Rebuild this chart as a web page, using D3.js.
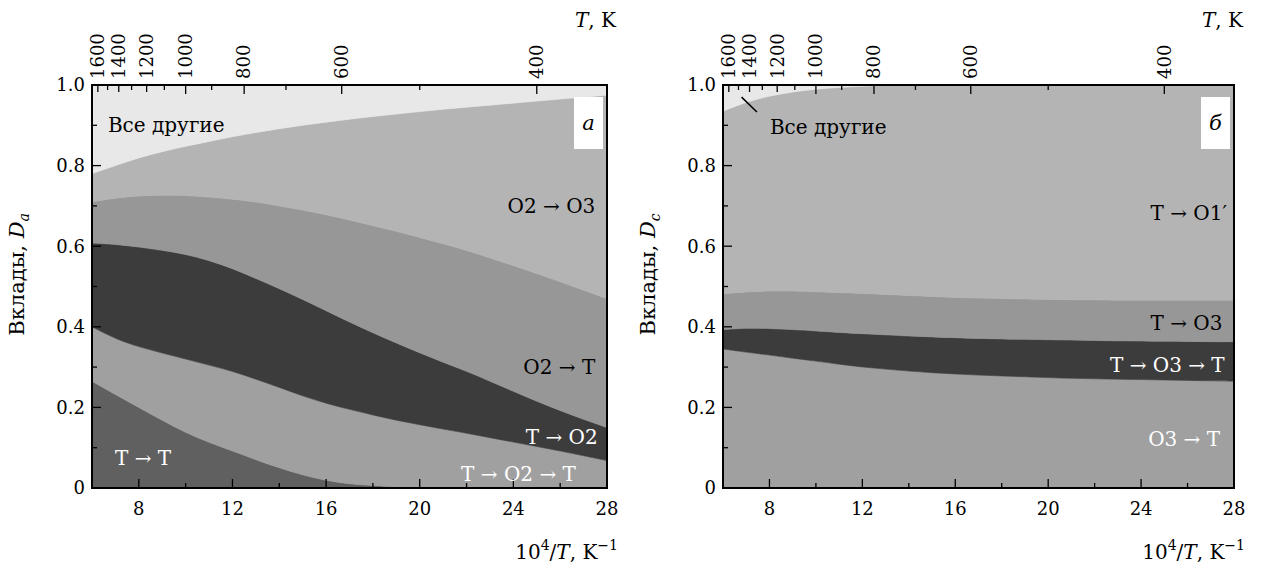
<!DOCTYPE html>
<html>
<head>
<meta charset="utf-8">
<script src="https://cdn.jsdelivr.net/npm/d3@7"></script>
<style>
  body { margin: 0; background: #fff; }
  text { font-family: "DejaVu Serif", serif; }
</style>
</head>
<body>
<script>
// 10^4/T grid, K^-1
var invT = [6, 7, 8, 9, 10, 11, 12, 13, 14, 15, 16, 17, 18, 19, 20, 21, 22, 23, 24, 25, 26, 27, 28];

// top axis, T in K
var tempMajor = [1600, 1400, 1200, 1000, 800, 600, 400];
var tempMinor = [1500, 1300, 1100, 900, 700, 500];
var xTicks = [8, 12, 16, 20, 24, 28];
var yTicks = [0, 0.2, 0.4, 0.6, 0.8, 1.0];

// panel a: contributions D_a (bottom to top)
var aTT   = [0.265, 0.232, 0.2, 0.168, 0.137, 0.113, 0.092, 0.07, 0.05, 0.032, 0.018, 0.01, 0.006, 0.003, 0.001, 0, 0, 0, 0, 0, 0, 0, 0];
var aTO2T = [0.135, 0.138, 0.15, 0.167, 0.183, 0.192, 0.198, 0.2, 0.2, 0.196, 0.192, 0.185, 0.175, 0.165, 0.156, 0.146, 0.136, 0.125, 0.114, 0.103, 0.092, 0.08, 0.068];
var aTO2  = [0.208, 0.235, 0.248, 0.255, 0.26, 0.26, 0.255, 0.25, 0.245, 0.24, 0.23, 0.217, 0.204, 0.192, 0.178, 0.166, 0.154, 0.14, 0.126, 0.112, 0.1, 0.09, 0.082];
var aO2T  = [0.102, 0.115, 0.127, 0.137, 0.146, 0.157, 0.172, 0.19, 0.205, 0.222, 0.238, 0.253, 0.266, 0.277, 0.287, 0.294, 0.3, 0.306, 0.312, 0.317, 0.32, 0.321, 0.32];
var aO2O3 = [0.07, 0.08, 0.095, 0.108, 0.122, 0.138, 0.155, 0.172, 0.192, 0.21, 0.23, 0.25, 0.271, 0.291, 0.312, 0.334, 0.355, 0.379, 0.403, 0.428, 0.453, 0.479, 0.505];
var aOther = [0.22, 0.2, 0.18, 0.165, 0.152, 0.14, 0.128, 0.118, 0.108, 0.1, 0.092, 0.085, 0.078, 0.072, 0.066, 0.06, 0.055, 0.05, 0.045, 0.04, 0.035, 0.03, 0.025];

// panel b: contributions D_c (bottom to top)
var bO3T  = [0.345, 0.337, 0.33, 0.322, 0.315, 0.307, 0.3, 0.295, 0.29, 0.286, 0.283, 0.28, 0.278, 0.276, 0.274, 0.272, 0.271, 0.27, 0.269, 0.268, 0.267, 0.266, 0.265];
var bTO3T = [0.048, 0.06, 0.066, 0.071, 0.075, 0.079, 0.083, 0.085, 0.087, 0.089, 0.09, 0.091, 0.092, 0.093, 0.094, 0.095, 0.095, 0.095, 0.096, 0.096, 0.097, 0.097, 0.098];
var bTO3  = [0.089, 0.09, 0.093, 0.096, 0.097, 0.099, 0.1, 0.1, 0.101, 0.1, 0.1, 0.1, 0.1, 0.1, 0.1, 0.1, 0.101, 0.101, 0.101, 0.102, 0.102, 0.103, 0.103];
var bTO1  = [0.453, 0.471, 0.484, 0.494, 0.503, 0.509, 0.514, 0.519, 0.522, 0.525, 0.527, 0.529, 0.53, 0.531, 0.532, 0.533, 0.533, 0.534, 0.534, 0.534, 0.534, 0.534, 0.534];
var bOther = [0.065, 0.042, 0.027, 0.017, 0.01, 0.006, 0.003, 0.001, 0, 0, 0, 0, 0, 0, 0, 0, 0, 0, 0, 0, 0, 0, 0];

var FS = "18px", FL = "20px", FSS = "14px";

var svg = d3.select("body").append("svg")
    .attr("width", 1265)
    .attr("height", 570)
    .attr("font-family", "DejaVu Serif");

function drawPanel(p) {
    var x = d3.scaleLinear().domain([6, 28]).range([p.left, p.right]);
    var y = d3.scaleLinear().domain([0, 1]).range([488, 85]);
    var g = svg.append("g");

    var rows = invT.map(function(v, i) {
        var r = { x: v };
        p.series.forEach(function(s) { r[s.key] = s.values[i]; });
        return r;
    });
    var stack = d3.stack().keys(p.series.map(function(s) { return s.key; }));
    var layers = stack(rows);

    var clipId = "clip" + p.id;
    g.append("clipPath").attr("id", clipId)
        .append("rect")
        .attr("x", x(6)).attr("y", y(1))
        .attr("width", x(28) - x(6)).attr("height", y(0) - y(1));

    var area = d3.area()
        .curve(d3.curveBasis)
        .x(function(d) { return x(d.data.x); })
        .y0(function(d) { return y(d[0]); })
        .y1(function(d) { return y(d[1]); });

    g.append("g").attr("clip-path", "url(#" + clipId + ")")
        .selectAll("path")
        .data(layers)
        .enter().append("path")
        .attr("fill", function(d, i) { return p.series[i].color; })
        .attr("stroke", function(d, i) { return p.series[i].color; })
        .attr("stroke-width", 0.6)
        .attr("d", area);

    // bottom axis, ticks inside
    var xMinor = d3.range(6, 28.01, 2);
    g.selectAll(".xminor").data(xMinor).enter().append("line")
        .attr("x1", function(d) { return x(d); }).attr("x2", function(d) { return x(d); })
        .attr("y1", y(0)).attr("y2", function(d) { return y(0) - (d % 4 === 0 ? 9 : 5); })
        .attr("stroke", "#000").attr("stroke-width", 1.3);
    g.selectAll(".xlab").data(xTicks).enter().append("text")
        .attr("x", function(d) { return x(d); })
        .attr("y", 515)
        .attr("text-anchor", "middle")
        .style("font-size", FS)
        .text(function(d) { return d; });

    // left axis
    var yMinor = d3.range(0, 1.001, 0.1);
    g.selectAll(".yminor").data(yMinor).enter().append("line")
        .attr("y1", function(d) { return y(d); }).attr("y2", function(d) { return y(d); })
        .attr("x1", x(6)).attr("x2", function(d, i) { return x(6) + (i % 2 === 0 ? 9 : 5); })
        .attr("stroke", "#000").attr("stroke-width", 1.3);
    g.selectAll(".ylab").data(yTicks).enter().append("text")
        .attr("x", x(6) - 7)
        .attr("y", function(d) { return y(d); })
        .attr("dy", "0.35em")
        .attr("text-anchor", "end")
        .style("font-size", FS)
        .text(function(d) { return d === 0 ? "0" : d.toFixed(1); });

    // top axis in T, ticks inside
    g.selectAll(".tmajor").data(tempMajor).enter().append("line")
        .attr("x1", function(d) { return x(1e4 / d); }).attr("x2", function(d) { return x(1e4 / d); })
        .attr("y1", y(1)).attr("y2", function(d) { return y(1) + (d <= 1000 ? 9 : 7); })
        .attr("stroke", "#000").attr("stroke-width", 1.3);
    g.selectAll(".tminor").data(tempMinor).enter().append("line")
        .attr("x1", function(d) { return x(1e4 / d); }).attr("x2", function(d) { return x(1e4 / d); })
        .attr("y1", y(1)).attr("y2", y(1) + 5)
        .attr("stroke", "#000").attr("stroke-width", 1.3);
    g.selectAll(".tlab").data(tempMajor).enter().append("text")
        .attr("transform", function(d) { return "translate(" + x(1e4 / d) + "," + (y(1) - 6) + ") rotate(-90)"; })
        .attr("dy", "0.35em")
        .attr("text-anchor", "start")
        .style("font-size", FS)
        .text(function(d) { return d; });

    // frame
    g.append("rect")
        .attr("x", x(6)).attr("y", y(1))
        .attr("width", x(28) - x(6)).attr("height", y(0) - y(1))
        .attr("fill", "none").attr("stroke", "#000").attr("stroke-width", 2);

    // axis titles
    var tt = g.append("text").attr("x", x(28) + 9).attr("y", 27)
        .attr("text-anchor", "end").style("font-size", FL);
    tt.append("tspan").style("font-style", "italic").text("T");
    tt.append("tspan").text(", K");

    var bt = g.append("text").attr("x", x(28) + 11).attr("y", 559)
        .attr("text-anchor", "end").style("font-size", FL);
    bt.append("tspan").text("10");
    bt.append("tspan").attr("dy", -9).style("font-size", FSS).text("4");
    bt.append("tspan").attr("dy", 9).text("/");
    bt.append("tspan").style("font-style", "italic").text("T");
    bt.append("tspan").text(", K");
    bt.append("tspan").attr("dy", -9).style("font-size", FSS).text("\u22121");

    var yt = g.append("text")
        .attr("transform", "translate(" + (x(6) - 68) + "," + y(0.53) + ") rotate(-90)")
        .attr("text-anchor", "middle").style("font-size", "21px");
    yt.append("tspan").text("Вклады, ");
    yt.append("tspan").style("font-style", "italic").text("D");
    yt.append("tspan").attr("dy", 5).style("font-style", "italic").style("font-size", FSS).text(p.sub);

    // panel letter
    g.append("rect")
        .attr("x", x(28) - 33).attr("y", y(1) + 12)
        .attr("width", 29).attr("height", 52)
        .attr("fill", "#fff");
    g.append("text")
        .attr("x", x(28) - 18.5).attr("y", y(1) + 38)
        .attr("dy", "0.35em")
        .attr("text-anchor", "middle")
        .style("font-size", "21px").style("font-style", "italic")
        .text(p.letter);

    // region labels
    g.selectAll(".rlab").data(p.labels).enter().append("text")
        .attr("x", function(d) { return x(d.x); })
        .attr("y", function(d) { return y(d.y); })
        .attr("dy", "0.35em")
        .attr("text-anchor", function(d) { return d.anchor; })
        .style("font-size", FL)
        .style("fill", function(d) { return d.white ? "#fff" : "#000"; })
        .text(function(d) { return d.text; });

    if (p.leader) {
        g.append("line")
            .attr("x1", x(p.leader[0])).attr("y1", y(p.leader[1]))
            .attr("x2", x(p.leader[2])).attr("y2", y(p.leader[3]))
            .attr("stroke", "#000").attr("stroke-width", 1.5);
    }
}

drawPanel({
    id: "a", left: 92, right: 607, sub: "a", letter: "a",
    series: [
        { key: "TT", values: aTT, color: "#606060" },
        { key: "TO2T", values: aTO2T, color: "#a0a0a0" },
        { key: "TO2", values: aTO2, color: "#3c3c3c" },
        { key: "O2T", values: aO2T, color: "#979797" },
        { key: "O2O3", values: aO2O3, color: "#b4b4b4" },
        { key: "other", values: aOther, color: "#e8e8e8" }
    ],
    labels: [
        { text: "Все другие", x: 6.68, y: 0.9, anchor: "start" },
        { text: "O2 → O3", x: 27.5, y: 0.70, anchor: "end" },
        { text: "O2 → T", x: 27.5, y: 0.30, anchor: "end" },
        { text: "T → O2", x: 27.6, y: 0.127, anchor: "end", white: true },
        { text: "T → O2 → T", x: 26.67, y: 0.035, anchor: "end", white: true },
        { text: "T → T", x: 6.98, y: 0.074, anchor: "start", white: true }
    ]
});

drawPanel({
    id: "b", left: 723, right: 1234, sub: "c", letter: "б",
    series: [
        { key: "O3T", values: bO3T, color: "#a0a0a0" },
        { key: "TO3T", values: bTO3T, color: "#3c3c3c" },
        { key: "TO3", values: bTO3, color: "#979797" },
        { key: "TO1", values: bTO1, color: "#b4b4b4" },
        { key: "other", values: bOther, color: "#e8e8e8" }
    ],
    labels: [
        { text: "Все другие", x: 8.02, y: 0.896, anchor: "start" },
        { text: "T → O1′", x: 27.7, y: 0.682, anchor: "end" },
        { text: "T → O3", x: 27.5, y: 0.41, anchor: "end" },
        { text: "T → O3 → T", x: 27.6, y: 0.305, anchor: "end", white: true },
        { text: "O3 → T", x: 27.4, y: 0.122, anchor: "end", white: true }
    ],
    leader: [6.8, 0.97, 7.46, 0.933]
});
</script>
</body>
</html>
